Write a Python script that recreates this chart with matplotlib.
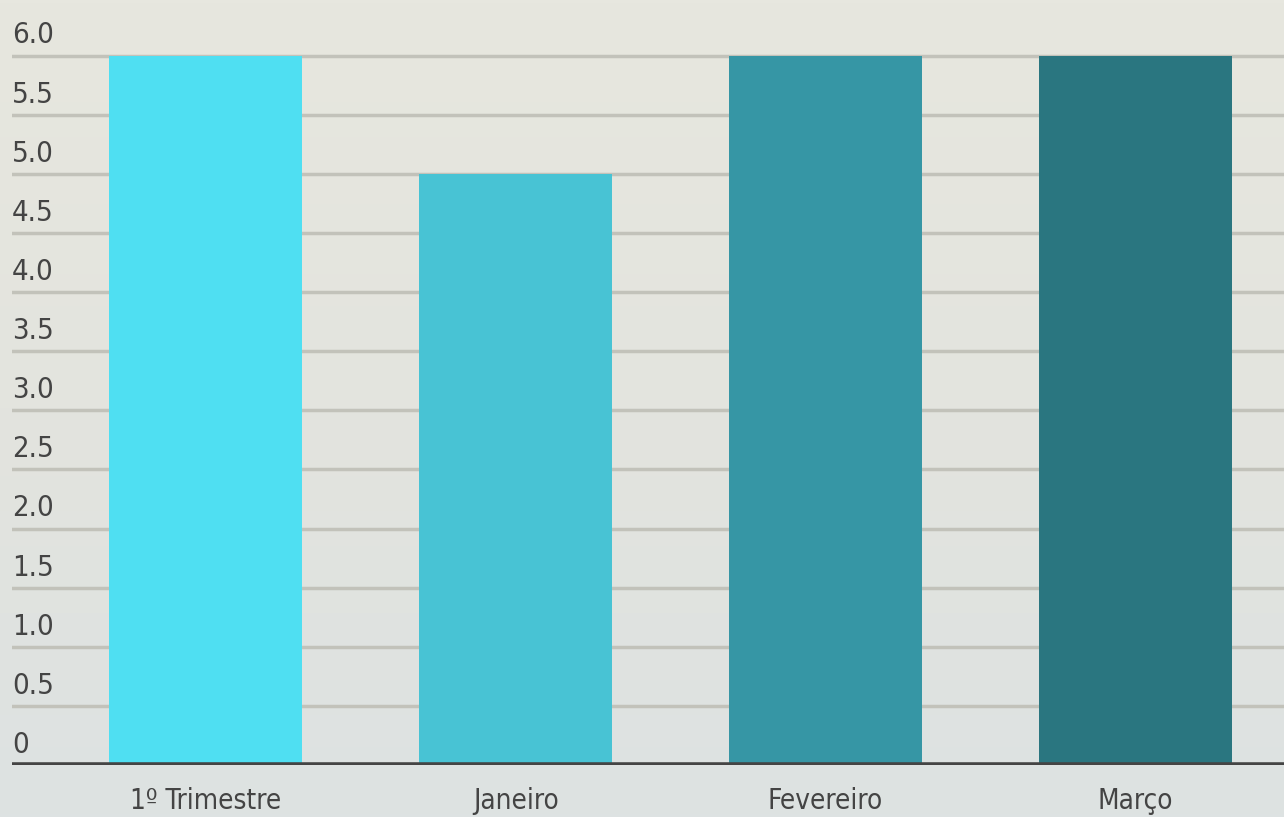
import numpy as np
import matplotlib.pyplot as plt
from matplotlib.colors import LinearSegmentedColormap

categories = ['1º Trimestre', 'Janeiro', 'Fevereiro', 'Março']
values = [6, 5, 6, 6]
colors = ['#4fdff2', '#48c3d4', '#3696a5', '#2a7680']
yticks = [0, 0.5, 1.0, 1.5, 2.0, 2.5, 3.0, 3.5, 4.0, 4.5, 5.0, 5.5, 6.0]
ytick_labels = ['0', '0.5', '1.0', '1.5', '2.0', '2.5', '3.0', '3.5', '4.0', '4.5', '5.0', '5.5', '6.0']

plt.rcParams['font.family'] = ['DejaVu Sans']
plt.rcParams['font.stretch'] = 'condensed'

fig = plt.figure(figsize=(12.84, 8.17), dpi=100)
fig.patch.set_facecolor('#e4e5de')

# soft background gradient
bg = fig.add_axes([0, 0, 1, 1], zorder=-10)
grad = np.linspace(0, 1, 256).reshape(-1, 1)
cmap = LinearSegmentedColormap.from_list('bg', ['#e7e7df', '#e3e4de', '#dde2e2'])
bg.imshow(grad, aspect='auto', cmap=cmap, extent=[0, 1, 0, 1])
bg.axis('off')

ax = fig.add_axes([12 / 1284, 52 / 817, 1272 / 1284, 765 / 817])
ax.patch.set_alpha(0)

x = np.arange(len(categories))
ax.bar(x, values, width=0.623, color=colors, zorder=3)

ax.set_xlim(-0.626, 3.48)
ax.set_ylim(0, 6.47)

for t in yticks[1:]:
    ax.axhline(t, color='#c2c2ba', lw=2.5, zorder=1)
for t, lab in zip(yticks, ytick_labels):
    ax.text(0, t + 0.17, lab, transform=ax.get_yaxis_transform(), ha='left', va='center',
            fontsize=21, color='#444444')

ax.axhline(0, color='#444444', lw=4, zorder=4)

ax.set_yticks([])
ax.set_xticks(x)
ax.set_xticklabels(categories, fontsize=20, color='#444444')
ax.tick_params(axis='x', length=0, pad=16)
for s in ax.spines.values():
    s.set_visible(False)

fig.savefig('out.png', dpi=100, facecolor=fig.get_facecolor())
